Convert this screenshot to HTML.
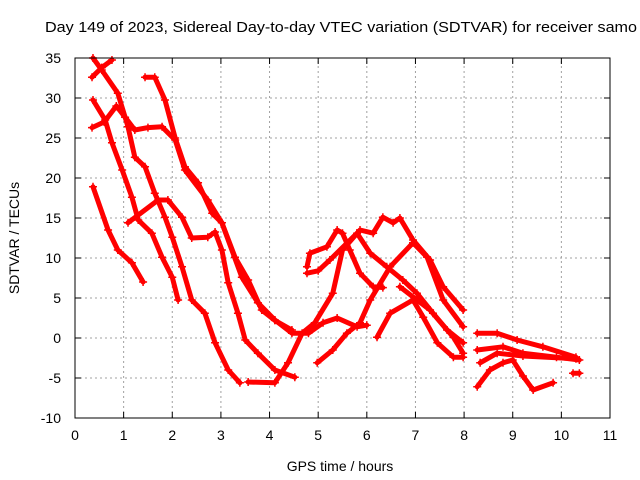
<!DOCTYPE html>
<html><head><meta charset="utf-8"><style>
html,body{margin:0;padding:0;background:#fff;}
svg{display:block;font-family:"Liberation Sans",sans-serif;}
</style></head><body>
<svg id="chart" width="640" height="480" viewBox="0 0 640 480">
<text x="45" y="32" font-size="15" textLength="592" lengthAdjust="spacingAndGlyphs" fill="#000">Day 149 of 2023, Sidereal Day-to-day VTEC variation (SDTVAR) for receiver samo</text>
<g id="grid"></g>
<g id="axes"></g>
<g id="series"></g>
<rect x="75" y="58" width="535" height="360" fill="none" stroke="#000" stroke-width="1"/>
<text x="340" y="471" font-size="14" text-anchor="middle">GPS time / hours</text>
<text transform="translate(19,238) rotate(-90)" font-size="14" text-anchor="middle">SDTVAR / TECUs</text>
</svg>
<script>
const xTicks = [0,1,2,3,4,5,6,7,8,9,10,11];
const yTicks = [-10,-5,0,5,10,15,20,25,30,35];
const seriesA = [[0.37,35],[0.55,33.5],[0.88,30.6],[1.09,26.4],[1.23,22.6],[1.44,21.4],[1.64,18.1],[1.85,15.1],[2.0,12.6],[2.2,8.9],[2.4,4.75],[2.67,3.1],[2.88,-0.6],[3.15,-4],[3.39,-5.6]];
const seriesB = [[0.35,26.3],[0.6,27],[0.85,29],[1.03,27.6],[1.23,26],[1.5,26.3],[1.79,26.4],[2.06,24.75],[2.26,21],[2.73,17.25],[3.02,14.4],[3.43,7.6],[3.76,4.4],[4.11,2.25],[4.46,0.6],[4.8,0.6],[5.1,1.9],[5.39,2.5],[5.8,1.4],[6.0,1.6]];
const seriesC = [[1.44,32.6],[1.64,32.6],[1.85,29.75],[2.06,25],[2.26,21.4],[2.53,19.4],[2.82,15.6],[3.02,14.4],[3.29,10.1],[3.56,7.25],[3.84,3.5],[4.11,2.2],[4.46,1]];
const seriesD = [[0.37,29.75],[0.62,27.25],[0.76,24.4],[0.97,21],[1.17,17.6],[1.3,14.75],[1.58,13.1],[1.79,10.1],[2.0,7.6],[2.12,4.75]];
const seriesE = [[0.37,18.9],[0.68,13.5],[0.88,11],[1.17,9.4],[1.4,7]];
const seriesF = [[0.35,32.6],[0.55,33.8],[0.76,34.75]];
const seriesG = [[1.09,14.4],[1.71,17.25],[1.91,17.25],[2.2,15.1],[2.4,12.5],[2.73,12.6],[2.88,13.25],[3.02,11],[3.15,6.9],[3.35,3.1],[3.5,-0.25],[3.76,-1.9],[4.11,-4],[4.52,-4.9]];
const seriesH = [[3.56,-5.5],[4.11,-5.6],[4.38,-3.1],[4.67,0.6],[4.93,1.9],[5.3,5.6],[5.5,11],[5.86,13.5],[6.13,13.1],[6.33,15.1],[6.54,14.4],[6.68,15],[6.95,12.25],[7.3,9.75],[7.57,6.4],[7.98,3.5]];
const seriesI = [[4.77,8.9],[4.83,10.6],[5.18,11.4],[5.39,13.5],[5.5,13.1],[5.65,11],[5.86,8.1],[6.13,6.4],[6.33,6.3]];
const seriesJ = [[4.77,8.1],[5.0,8.4],[5.24,9.75],[5.8,13.1],[6.07,10.6],[6.41,8.9],[6.74,7.25],[7.03,5.6],[7.36,3.1],[7.65,1],[7.98,-0.6]];
const seriesK = [[4.98,-3.1],[5.3,-1.5],[5.59,0.6],[5.86,1.9],[6.07,4.75],[6.48,8.9],[6.95,11.9],[7.24,10.1],[7.57,4.75],[7.98,1.4]];
const seriesL = [[6.21,0.1],[6.48,3.1],[6.95,4.75],[7.16,2.6],[7.45,-0.6],[7.78,-2.4],[7.98,-2.4]];
const seriesM = [[6.68,6.4],[7.3,3.5],[7.78,0.1],[7.98,-1.9]];
const seriesN = [[8.27,0.6],[8.68,0.6],[9.09,-0.25],[9.62,-1.1],[10.3,-2.4]];
const seriesO = [[8.27,-1.5],[8.8,-1.1],[9.21,-1.9],[9.9,-2.4],[10.37,-2.75]];
const seriesP = [[8.27,-6.1],[8.53,-4],[8.8,-3.1],[9.0,-2.75],[9.21,-4.75],[9.42,-6.5],[9.83,-5.6]];
const seriesQ = [[8.33,-3.1],[8.68,-1.9],[9.21,-2.25],[10.3,-2.6]];
const seriesR = [[10.24,-4.4],[10.37,-4.4]];
const allSeries = [seriesA,seriesB,seriesC,seriesD,seriesE,seriesF,seriesG,seriesH,seriesI,seriesJ,seriesK,seriesL,seriesM,seriesN,seriesO,seriesP,seriesQ,seriesR];

const X0=75,X1=610,Y0=418,Y1=58;
const sx=v=>X0+(v-0)/(11-0)*(X1-X0);
const sy=v=>Y0-(v-(-10))/(35-(-10))*(Y0-Y1);
const NS="http://www.w3.org/2000/svg";
function mk(t,a){const e=document.createElementNS(NS,t);for(const k in a)e.setAttribute(k,a[k]);return e;}
const grid=document.getElementById('grid'),axes=document.getElementById('axes'),ser=document.getElementById('series');
xTicks.forEach(t=>{
  const x=sx(t);
  if(t>0&&t<11){const g=mk('line',{x1:x,y1:Y0,x2:x,y2:Y1,stroke:'#a0a0a0','stroke-dasharray':'2,3'});
  
  
  grid.appendChild(g);}
  const tk=mk('path',{d:`M${x},${Y0}v-6M${x},${Y1}v6`,stroke:'#000'});
  
  
  axes.appendChild(tk);
  const l=mk('text',{x:x,y:Y0+22,'font-size':14,'text-anchor':'middle'});l.textContent=t;
  
  
  axes.appendChild(l);
});
yTicks.forEach(t=>{
  const y=sy(t);
  if(t>-10&&t<35){const g=mk('line',{x1:X0,y1:y,x2:X1,y2:y,stroke:'#a0a0a0','stroke-dasharray':'2,3'});
  
  
  grid.appendChild(g);}
  const tk=mk('path',{d:`M${X0},${y}h6M${X1},${y}h-6`,stroke:'#000'});
  
  
  axes.appendChild(tk);
  const l=mk('text',{x:X0-14,y:y+5,'font-size':14,'text-anchor':'end'});l.textContent=t;
  
  
  axes.appendChild(l);
});
allSeries.forEach((s,i)=>{
  const pts=s.map(p=>sx(p[0])+','+sy(p[1])).join(' ');
  const pl=mk('polyline',{points:pts,fill:'none',stroke:'#f00','stroke-width':5,'stroke-linejoin':'round','stroke-linecap':'round'});
  
  
  ser.appendChild(pl);
  s.forEach(p=>{
    const x=sx(p[0]),y=sy(p[1]);
    const m=mk('path',{d:`M${x-4},${y}h8M${x},${y-4}v8`,stroke:'#f00','stroke-width':1.5});
    
    
    ser.appendChild(m);
  });
});
</script>
</body></html>
